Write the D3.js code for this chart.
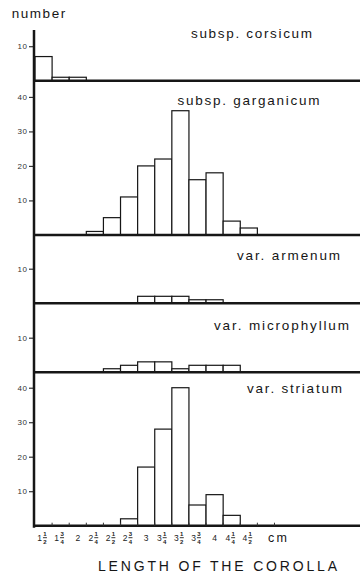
<!DOCTYPE html>
<html><head><meta charset="utf-8">
<script src="https://cdnjs.cloudflare.com/ajax/libs/d3/7.8.5/d3.min.js"></script>
<style>
html,body{margin:0;padding:0;background:#fff;}
svg{display:block;font-family:"Liberation Sans",Arial,sans-serif;}
</style></head>
<body>
<script>
// ---- data ----
const lengths = [1.5,1.75,2,2.25,2.5,2.75,3,3.25,3.5,3.75,4,4.25,4.5];
const tickLabels = ["1 1/2","1 3/4","2","2 1/4","2 1/2","2 3/4","3","3 1/4","3 1/2","3 3/4","4","4 1/4","4 1/2"];
const panelNames = ["subsp. corsicum","subsp. garganicum","var. armenum","var. microphyllum","var. striatum"];
const corsicum     = [7,1,1,0,0,0,0,0,0,0,0,0,0];
const garganicum   = [0,0,0,1,5,11,20,22,36,16,18,4,2];
const armenum      = [0,0,0,0,0,0,2,2,2,1,1,0,0];
const microphyllum = [0,0,0,0,1,2,3,3,1,2,2,2,0];
const striatum     = [0,0,0,0,0,2,17,28,40,6,9,3,0];
const panelMax     = [14.7,44.7,19.8,20,44.5];
const panelTicks   = [[10],[10,20,30,40],[10],[10],[10,20,30,40]];
const series = [corsicum,garganicum,armenum,microphyllum,striatum];
const yTitle = "number", xTitle = "LENGTH OF THE COROLLA", unit = "cm";

// ---- layout ----
const W = 360, H = 577;
const axisX = 35, plotTop = 30, plotBottom = 525.7;
const labelPos = [[191,37.5,121],[177.5,105,142],[237,259.5,103],[214,330,135],[247,392.5,95]];
const ink = "#161616";

const svg = d3.select("body").append("svg").attr("width",W).attr("height",H);

const x = d3.scaleLinear().domain([1.375, 6.125]).range([axisX, W]);
const totalUnits = d3.sum(panelMax);
const k = d3.scaleLinear().domain([0,totalUnits]).range([0,plotBottom-plotTop]);

let cursor = plotTop;
const panels = panelMax.map((m,i)=>{
  const t = cursor, b = cursor + k(m);
  cursor = b;
  return {top:t, base:b, y:d3.scaleLinear().domain([0,m]).range([b,t])};
});

panels.forEach((p,i)=>{
  const g = svg.append("g");
  const data = lengths.map((v,j)=>({v, n:series[i][j]})).filter(d=>d.n>0);
  g.selectAll("rect").data(data).join("rect")
    .attr("x", d=>x(d.v-0.125))
    .attr("y", d=>p.y(d.n))
    .attr("width", d=>x(d.v+0.125)-x(d.v-0.125))
    .attr("height", d=>p.y(0)-p.y(d.n))
    .attr("fill","#fff").attr("stroke",ink).attr("stroke-width",1.2);
  // y axis ticks
  const ax = d3.axisLeft(p.y).tickValues(panelTicks[i]).tickSize(5).tickPadding(1.5);
  const ga = svg.append("g").attr("transform",`translate(${axisX-1},0)`).call(ax);
  ga.select(".domain").remove();
  ga.selectAll("line").attr("stroke","#333").attr("stroke-width",1.2);
  ga.selectAll("text").attr("fill","#333").style("font-size","8px")
    .style("font-family","Liberation Sans, Arial, sans-serif").attr("letter-spacing","0.5");
  // baseline
  svg.append("line").attr("x1",axisX-1).attr("x2",W).attr("y1",p.base).attr("y2",p.base)
    .attr("stroke",ink).attr("stroke-width",2.5);
  // label
  const lp = labelPos[i];
  svg.append("text").attr("x",lp[0]).attr("y",lp[1]).attr("textLength",lp[2])
    .attr("lengthAdjust","spacing").attr("fill",ink).style("font-size","13.5px")
    .text(panelNames[i]);
});

// vertical axis line
svg.append("line").attr("x1",axisX-1).attr("x2",axisX-1).attr("y1",plotTop).attr("y2",plotBottom+2)
  .attr("stroke",ink).attr("stroke-width",2.5);

// bottom small ticks at bin edges
const edges = d3.range(1,15).map(i=>1.375+0.25*i);
svg.append("g").selectAll("line").data(edges).join("line")
  .attr("x1",d=>x(d)).attr("x2",d=>x(d)).attr("y1",plotBottom).attr("y2",plotBottom-3)
  .attr("stroke","#333").attr("stroke-width",1);

// fraction tick labels
const gl = svg.append("g").attr("fill","#222");
tickLabels.forEach((s,i)=>{
  const c = x(lengths[i]);
  const parts = s.split(" ");
  if(parts.length===1){
    gl.append("text").attr("x",c).attr("y",540.8).attr("text-anchor","middle")
      .style("font-size","8.5px").text(parts[0]);
  } else {
    const [n,d] = parts[1].split("/");
    gl.append("text").attr("x",c-1.6).attr("y",540.8).attr("text-anchor","end")
      .style("font-size","8.5px").text(parts[0]);
    gl.append("text").attr("x",c+1.4).attr("y",536.3).attr("text-anchor","middle")
      .style("font-size","6px").style("font-weight","bold").text(n);
    gl.append("line").attr("x1",c-0.6).attr("x2",c+3.4).attr("y1",537.7).attr("y2",537.7)
      .attr("stroke","#222").attr("stroke-width",0.9);
    gl.append("text").attr("x",c+1.4).attr("y",544).attr("text-anchor","middle")
      .style("font-size","6px").style("font-weight","bold").text(d);
  }
});
svg.append("text").attr("x",268).attr("y",541.8).attr("textLength",19).attr("lengthAdjust","spacing")
  .attr("fill",ink).style("font-size","12.5px").text(unit);

// titles
svg.append("text").attr("x",11.7).attr("y",18).attr("textLength",53.5).attr("lengthAdjust","spacing")
  .attr("fill",ink).style("font-size","13.5px").text(yTitle);
svg.append("text").attr("x",98).attr("y",570.5).attr("textLength",239).attr("lengthAdjust","spacing")
  .attr("fill",ink).style("font-size","14px").text(xTitle);
</script>
</body></html>
